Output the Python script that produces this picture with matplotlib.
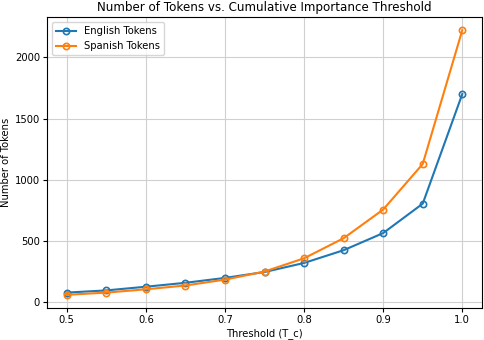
import matplotlib
matplotlib.use("Agg")
import matplotlib.pyplot as plt

thresholds = [0.5, 0.55, 0.6, 0.65, 0.7, 0.75, 0.8, 0.85, 0.9, 0.95, 1.0]
english_tokens = [80, 98, 128, 160, 200, 248, 322, 426, 566, 806, 1701]
spanish_tokens = [62, 80, 107, 138, 186, 252, 360, 524, 758, 1130, 2222]

fig, ax = plt.subplots(figsize=(4.84, 3.4), dpi=100)
ax.plot(thresholds, english_tokens, marker="o", mfc="none", ms=4.5, mew=1.2, lw=1.5,
        color="#1f77b4", label="English Tokens")
ax.plot(thresholds, spanish_tokens, marker="o", mfc="none", ms=4.5, mew=1.2, lw=1.5,
        color="#ff7f0e", label="Spanish Tokens")

ax.set_title("Number of Tokens vs. Cumulative Importance Threshold", fontsize=8.6, pad=4)
ax.set_xlabel("Threshold (T_c)", fontsize=7.2, labelpad=2)
ax.set_ylabel("Number of Tokens", fontsize=7.2, labelpad=3)
ax.tick_params(labelsize=7.2, length=3, pad=2)
ax.grid(True, color="#d0d0d0")
ax.legend(fontsize=7.2, loc="upper left")

fig.subplots_adjust(left=0.097, right=0.996, top=0.95, bottom=0.094)
fig.savefig("out.png", dpi=100)
